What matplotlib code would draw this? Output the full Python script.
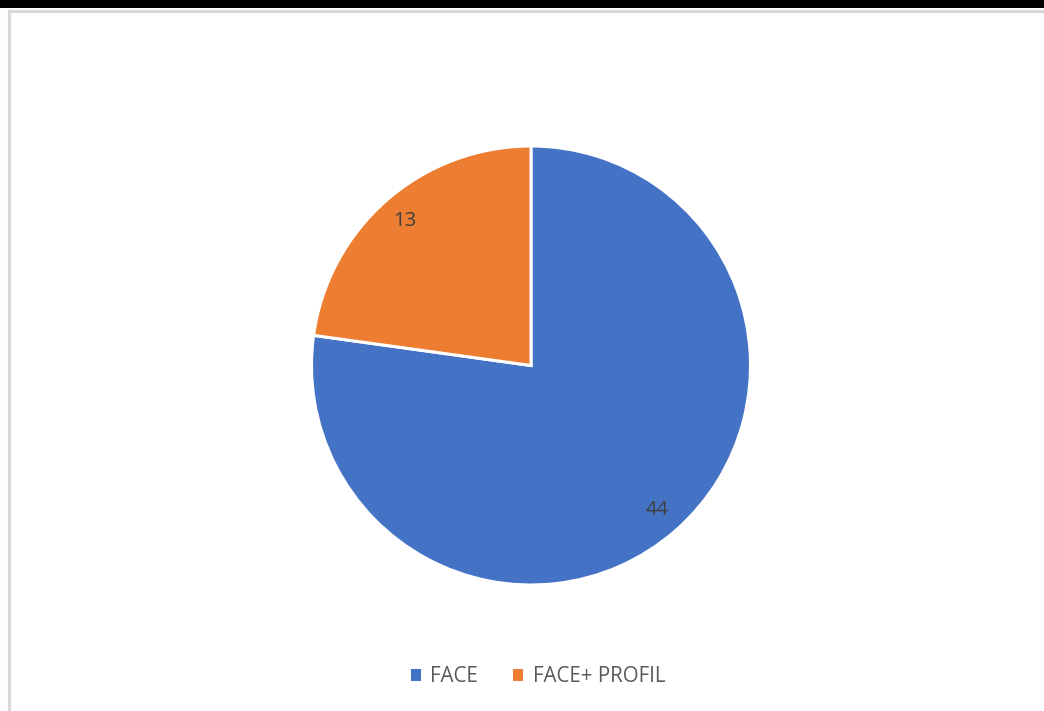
import matplotlib
matplotlib.use("Agg")
import matplotlib.pyplot as plt
from matplotlib.patches import Rectangle

categories = ["FACE", "FACE+ PROFIL"]
values = [44, 13]
colors = ["#4472C4", "#ED7D31"]

W, H = 1044, 711
fig = plt.figure(figsize=(W / 100, H / 100), dpi=100)
fig.patch.set_facecolor("white")

# top black band and light grey frame of the chart area
fig.add_artist(Rectangle((0, 1 - 8 / H), 1, 8 / H, transform=fig.transFigure,
                         facecolor="black", edgecolor="none"))
fig.add_artist(Rectangle((9 / W, -0.1), 1.2, 1 - 11 / H + 0.1, transform=fig.transFigure,
                         facecolor="none", edgecolor="#D9D9D9", linewidth=2.2))

cx, cy, r = 531, 365.5, 219.5
ax = fig.add_axes([(cx - r) / W, 1 - (cy + r) / H, 2 * r / W, 2 * r / H])
wedges, texts = ax.pie(
    values, colors=colors, startangle=90, counterclock=False,
    labels=[str(v) for v in values], labeldistance=0.872,
    wedgeprops=dict(edgecolor="white", linewidth=2.2),
    textprops=dict(color="#404040", fontsize=14.5, ha="center", va="center",
                   family="Open Sans"),
)
for t in texts:
    t.set_ha("center")
    t.set_va("center")
ax.set_xlim(-1, 1)
ax.set_ylim(-1, 1)
ax.set_aspect("equal")
ax.axis("off")

leg = fig.legend(wedges, categories, loc="center", bbox_to_anchor=(538 / W, 1 - 677 / H),
                 ncol=2, frameon=False, handlelength=0.5, handleheight=0.5,
                 handletextpad=0.45, columnspacing=1.7,
                 prop=dict(family="Open Sans", size=14.8))
for t in leg.get_texts():
    t.set_color("#595959")
for h in leg.legend_handles:
    h.set_edgecolor("none")

fig.savefig("out.png", dpi=100)
